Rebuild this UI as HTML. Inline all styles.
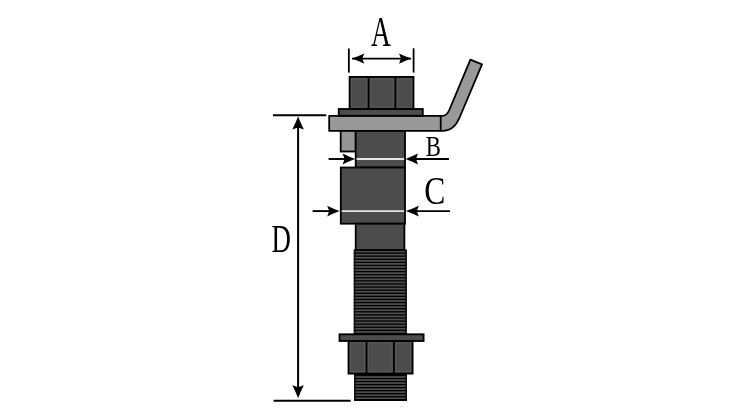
<!DOCTYPE html>
<html><head><meta charset="utf-8"><style>
html,body{margin:0;padding:0;background:#fff;}
svg{display:block;}
text{font-family:"Liberation Serif",serif;fill:#000;}
svg{will-change:transform;}
</style></head><body>
<svg width="756" height="420" viewBox="0 0 756 420">
<rect x="353.8" y="250.0" width="53.00" height="84.30" fill="#4e4e4e"/>
<rect x="353.8" y="249.35" width="53.00" height="1.3" fill="#000"/>
<rect x="353.8" y="252.44" width="53.00" height="1.3" fill="#000"/>
<rect x="353.8" y="255.53" width="53.00" height="1.3" fill="#000"/>
<rect x="353.8" y="258.62" width="53.00" height="1.3" fill="#000"/>
<rect x="353.8" y="261.71" width="53.00" height="1.3" fill="#000"/>
<rect x="353.8" y="264.80" width="53.00" height="1.3" fill="#000"/>
<rect x="353.8" y="267.89" width="53.00" height="1.3" fill="#000"/>
<rect x="353.8" y="270.98" width="53.00" height="1.3" fill="#000"/>
<rect x="353.8" y="274.07" width="53.00" height="1.3" fill="#000"/>
<rect x="353.8" y="277.16" width="53.00" height="1.3" fill="#000"/>
<rect x="353.8" y="280.25" width="53.00" height="1.3" fill="#000"/>
<rect x="353.8" y="283.34" width="53.00" height="1.3" fill="#000"/>
<rect x="353.8" y="286.43" width="53.00" height="1.3" fill="#000"/>
<rect x="353.8" y="289.52" width="53.00" height="1.3" fill="#000"/>
<rect x="353.8" y="292.61" width="53.00" height="1.3" fill="#000"/>
<rect x="353.8" y="295.70" width="53.00" height="1.3" fill="#000"/>
<rect x="353.8" y="298.79" width="53.00" height="1.3" fill="#000"/>
<rect x="353.8" y="301.88" width="53.00" height="1.3" fill="#000"/>
<rect x="353.8" y="304.97" width="53.00" height="1.3" fill="#000"/>
<rect x="353.8" y="308.06" width="53.00" height="1.3" fill="#000"/>
<rect x="353.8" y="311.15" width="53.00" height="1.3" fill="#000"/>
<rect x="353.8" y="314.24" width="53.00" height="1.3" fill="#000"/>
<rect x="353.8" y="317.33" width="53.00" height="1.3" fill="#000"/>
<rect x="353.8" y="320.42" width="53.00" height="1.3" fill="#000"/>
<rect x="353.8" y="323.51" width="53.00" height="1.3" fill="#000"/>
<rect x="353.8" y="326.60" width="53.00" height="1.3" fill="#000"/>
<rect x="353.8" y="329.69" width="53.00" height="1.3" fill="#000"/>
<rect x="353.8" y="332.78" width="53.00" height="1.3" fill="#000"/>
<rect x="353.8" y="250.0" width="1.6" height="84.30" fill="#111"/>
<rect x="405.20" y="250.0" width="1.6" height="84.30" fill="#111"/>
<rect x="354.1" y="374.3" width="52.90" height="26.70" fill="#4e4e4e"/>
<rect x="354.1" y="374.85" width="52.90" height="1.3" fill="#000"/>
<rect x="354.1" y="377.88" width="52.90" height="1.3" fill="#000"/>
<rect x="354.1" y="380.91" width="52.90" height="1.3" fill="#000"/>
<rect x="354.1" y="383.94" width="52.90" height="1.3" fill="#000"/>
<rect x="354.1" y="386.97" width="52.90" height="1.3" fill="#000"/>
<rect x="354.1" y="390.00" width="52.90" height="1.3" fill="#000"/>
<rect x="354.1" y="393.03" width="52.90" height="1.3" fill="#000"/>
<rect x="354.1" y="396.06" width="52.90" height="1.3" fill="#000"/>
<rect x="354.1" y="399.09" width="52.90" height="1.3" fill="#000"/>
<rect x="354.1" y="374.3" width="1.6" height="26.70" fill="#111"/>
<rect x="405.40" y="374.3" width="1.6" height="26.70" fill="#111"/>
<path d="M329.2,115.8 L442.2,115.8 Q446.9,115.8 449.3,110 L470.4,59.6 L482,64.4 L459.4,118 Q453.8,130.9 443,130.9 L329.2,130.9 Z" fill="#999999" stroke="#000" stroke-width="1.8" stroke-linejoin="round"/>
<line x1="440.7" y1="115.8" x2="440.7" y2="130.9" stroke="#000" stroke-width="1.8"/>
<rect x="338.75" y="109" width="84.05" height="6.80" fill="#4c4c4c" stroke="#000" stroke-width="1.8"/>
<rect x="349.6" y="76.9" width="63.90" height="32.10" fill="#4c4c4c" stroke="#000" stroke-width="1.8"/>
<rect x="351.70" y="79.00" width="14.80" height="27.90" fill="none" stroke="#5c5c5c" stroke-width="0.7"/>
<rect x="370.70" y="79.00" width="22.60" height="27.90" fill="none" stroke="#5c5c5c" stroke-width="0.7"/>
<rect x="397.50" y="79.00" width="13.90" height="27.90" fill="none" stroke="#5c5c5c" stroke-width="0.7"/>
<line x1="368.6" y1="76.9" x2="368.6" y2="109" stroke="#000" stroke-width="1.8"/>
<line x1="395.4" y1="76.9" x2="395.4" y2="109" stroke="#000" stroke-width="1.8"/>
<rect x="340.7" y="130.9" width="15.00" height="20.60" fill="#959595" stroke="#000" stroke-width="1.8"/>
<rect x="355.7" y="130.9" width="49.30" height="36.60" fill="#4c4c4c" stroke="#000" stroke-width="1.8"/>
<line x1="356.6" y1="159" x2="404.1" y2="159" stroke="#e4e4e4" stroke-width="1.8"/>
<rect x="340.8" y="167.5" width="64.20" height="56.20" fill="#4c4c4c" stroke="#000" stroke-width="1.8"/>
<line x1="341.7" y1="211.1" x2="404.1" y2="211.1" stroke="#e4e4e4" stroke-width="1.8"/>
<rect x="355.7" y="223.7" width="48.70" height="26.30" fill="#4c4c4c" stroke="#000" stroke-width="1.8"/>
<rect x="339.5" y="334.3" width="84.10" height="6.70" fill="#4c4c4c" stroke="#000" stroke-width="1.8"/>
<rect x="348.5" y="341" width="64.10" height="32.60" fill="#4c4c4c" stroke="#000" stroke-width="1.8"/>
<line x1="366.5" y1="341" x2="366.5" y2="373.6" stroke="#000" stroke-width="1.8"/>
<rect x="350.60" y="343.10" width="13.80" height="28.40" fill="none" stroke="#5c5c5c" stroke-width="0.7"/>
<rect x="368.60" y="343.10" width="23.20" height="28.40" fill="none" stroke="#5c5c5c" stroke-width="0.7"/>
<rect x="396.00" y="343.10" width="14.50" height="28.40" fill="none" stroke="#5c5c5c" stroke-width="0.7"/>
<line x1="393.9" y1="341" x2="393.9" y2="373.6" stroke="#000" stroke-width="1.8"/>
<line x1="354.1" y1="400.0" x2="407.0" y2="400.0" stroke="#000" stroke-width="2.0"/>
<line x1="354.1" y1="374.6" x2="407.0" y2="374.6" stroke="#000" stroke-width="1.8"/>
<line x1="348.85" y1="48.5" x2="348.85" y2="72.6" stroke="#000" stroke-width="1.8"/>
<line x1="413.6" y1="48.3" x2="413.6" y2="72.6" stroke="#000" stroke-width="1.8"/>
<line x1="352" y1="58.6" x2="411" y2="58.6" stroke="#000" stroke-width="1.7"/>
<path d="M0,0 Q-6.20,-2.20 -12.40,-5.10 L-10.40,0 L-12.40,5.10 Q-6.20,2.20 0,0 Z" transform="translate(351.9,58.6) rotate(180)" fill="#000"/>
<path d="M0,0 Q-6.20,-2.25 -12.40,-5.20 L-10.40,0 L-12.40,5.20 Q-6.20,2.25 0,0 Z" transform="translate(411.4,58.6) rotate(0)" fill="#000"/>
<text transform="translate(371.02,45.5) scale(0.655,1)" font-size="42">A</text>
<line x1="328.6" y1="159" x2="350" y2="159" stroke="#000" stroke-width="1.9"/>
<path d="M0,0 Q-6.20,-2.38 -12.40,-5.45 L-10.40,0 L-12.40,5.45 Q-6.20,2.38 0,0 Z" transform="translate(355.0,159) rotate(0)" fill="#000"/>
<line x1="410" y1="159" x2="449" y2="159" stroke="#000" stroke-width="1.9"/>
<path d="M0,0 Q-6.20,-2.38 -12.40,-5.45 L-10.40,0 L-12.40,5.45 Q-6.20,2.38 0,0 Z" transform="translate(405.6,159) rotate(180)" fill="#000"/>
<text transform="translate(425.82,156.3) scale(0.75,1)" font-size="30.3">B</text>
<line x1="312.6" y1="211.1" x2="335" y2="211.1" stroke="#000" stroke-width="1.9"/>
<path d="M0,0 Q-6.20,-2.38 -12.40,-5.45 L-10.40,0 L-12.40,5.45 Q-6.20,2.38 0,0 Z" transform="translate(339.6,211.1) rotate(0)" fill="#000"/>
<line x1="410" y1="211.1" x2="450" y2="211.1" stroke="#000" stroke-width="1.9"/>
<path d="M0,0 Q-6.50,-2.38 -13.00,-5.45 L-11.00,0 L-13.00,5.45 Q-6.50,2.38 0,0 Z" transform="translate(405.8,211.1) rotate(180)" fill="#000"/>
<text transform="translate(424.14,203.8) scale(0.77,1)" font-size="41">C</text>
<line x1="273" y1="115.2" x2="326.3" y2="115.2" stroke="#000" stroke-width="1.9"/>
<line x1="273.6" y1="400.7" x2="350.6" y2="400.7" stroke="#000" stroke-width="1.9"/>
<line x1="298.1" y1="121" x2="298.1" y2="394" stroke="#000" stroke-width="2"/>
<path d="M0,0 Q-6.50,-2.55 -13.00,-5.80 L-11.00,0 L-13.00,5.80 Q-6.50,2.55 0,0 Z" transform="translate(298.1,116.6) rotate(-90)" fill="#000"/>
<path d="M0,0 Q-6.50,-2.50 -13.00,-5.70 L-11.00,0 L-13.00,5.70 Q-6.50,2.50 0,0 Z" transform="translate(298.1,398.2) rotate(90)" fill="#000"/>
<text transform="translate(271.59,252.1) scale(0.655,1)" font-size="41.0">D</text>
</svg>
</body></html>
